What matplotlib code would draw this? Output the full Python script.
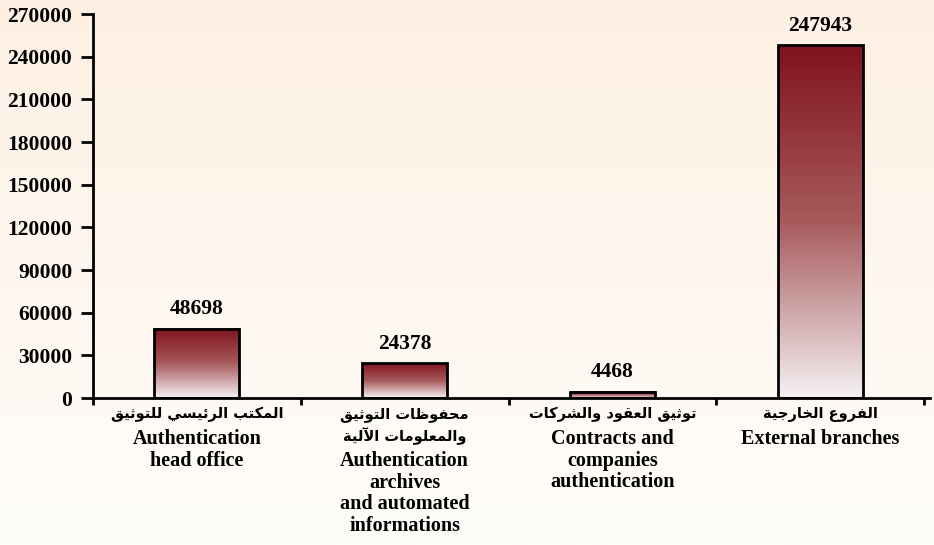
import numpy as np
import matplotlib.pyplot as plt
from matplotlib.colors import LinearSegmentedColormap

# values per department
values = [48698, 24378, 4468, 247943]
labels_ar = [['المكتب الرئيسي للتوثيق'],
             ['محفوظات التوثيق', 'والمعلومات الآلية'],
             ['توثيق العقود والشركات'],
             ['الفروع الخارجية']]
labels_en = [['Authentication', 'head office'],
             ['Authentication', 'archives', 'and automated', 'informations'],
             ['Contracts and', 'companies', 'authentication'],
             ['External branches']]
yticks = np.arange(0, 270001, 30000)

# minimal arabic joining (presentation forms B), matplotlib has no shaping
four = {'ب': 0xFE8F, 'ت': 0xFE95, 'ث': 0xFE99, 'ج': 0xFE9D, 'ح': 0xFEA1,
        'خ': 0xFEA5, 'س': 0xFEB1, 'ش': 0xFEB5, 'ص': 0xFEB9, 'ض': 0xFEBD,
        'ط': 0xFEC1, 'ظ': 0xFEC5, 'ع': 0xFEC9, 'غ': 0xFECD, 'ف': 0xFED1,
        'ق': 0xFED5, 'ك': 0xFED9, 'ل': 0xFEDD, 'م': 0xFEE1, 'ن': 0xFEE5,
        'ه': 0xFEE9, 'ي': 0xFEF1, 'ئ': 0xFE89}
two = {'آ': 0xFE81, 'أ': 0xFE83, 'ؤ': 0xFE85, 'إ': 0xFE87, 'ا': 0xFE8D,
       'ة': 0xFE93, 'د': 0xFEA9, 'ذ': 0xFEAB, 'ر': 0xFEAD, 'ز': 0xFEAF,
       'و': 0xFEED, 'ى': 0xFEEF}
lam_alef = {'آ': 0xFEF5, 'أ': 0xFEF7, 'إ': 0xFEF9, 'ا': 0xFEFB}


def shape(text):
    toks = []
    i = 0
    while i < len(text):
        if text[i] == 'ل' and i + 1 < len(text) and text[i + 1] in lam_alef:
            toks.append(('LA', text[i + 1]))
            i += 2
        else:
            toks.append(text[i])
            i += 1

    def joins(t):
        return isinstance(t, tuple) or t in four or t in two

    out = []
    for k, t in enumerate(toks):
        prev = toks[k - 1] if k > 0 else None
        nxt = toks[k + 1] if k + 1 < len(toks) else None
        p = prev is not None and not isinstance(prev, tuple) and prev in four
        if isinstance(t, tuple):
            out.append(chr(lam_alef[t[1]] + (1 if p else 0)))
        elif t in two:
            out.append(chr(two[t] + (1 if p else 0)))
        elif t in four:
            n = nxt is not None and joins(nxt)
            off = 3 if (p and n) else 1 if p else 2 if n else 0
            out.append(chr(four[t] + off))
        else:
            out.append(t)
    return ''.join(out[::-1])


serif = 'Liberation Serif'
fig = plt.figure(figsize=(9.34, 5.45), dpi=100)

# soft peach background
bg = fig.add_axes([0, 0, 1, 1], zorder=-10)
bg.imshow(np.linspace(0, 1, 256).reshape(-1, 1), aspect='auto',
          cmap=LinearSegmentedColormap.from_list('bg', ['#FDF0E3', '#FFFDFA']),
          extent=[0, 1, 0, 1])
bg.axis('off')

ax = fig.add_axes([0.0996, 0.2697, 0.8964, 0.7046])
ax.set_facecolor('none')

cmap = LinearSegmentedColormap.from_list('bar', ['#F6F1F3', '#A75A5C', '#80121F'])
grad = np.linspace(0, 1, 256).reshape(-1, 1)
w = 0.41
x = np.arange(len(values))
for xi, v in zip(x, values):
    ax.imshow(grad, extent=[xi - w / 2, xi + w / 2, 0, v], origin='lower',
              aspect='auto', cmap=cmap, zorder=2)
ax.bar(x, values, width=w, facecolor='none', edgecolor='black', linewidth=2, zorder=3)

for xi, v in zip(x, values):
    ax.annotate(str(v), (xi, v), xytext=(0, 7), textcoords='offset points',
                ha='center', va='bottom', fontsize=15.5, fontweight='bold', family=serif)

ax.set_xlim(-0.5, 3.53)
ax.set_ylim(0, 270000)
ax.set_yticks(yticks)
ax.set_yticklabels([str(t) for t in yticks], fontsize=15.5, fontweight='bold', family=serif)
ax.set_xticks([-0.5, 0.5, 1.5, 2.5, 3.5])
ax.set_xticklabels([])
ax.tick_params(axis='y', length=9, width=2, pad=6)
ax.tick_params(axis='x', length=5, width=2)
for s in ['top', 'right']:
    ax.spines[s].set_visible(False)
for s in ['left', 'bottom']:
    ax.spines[s].set_linewidth(2)

# category labels: arabic lines then english lines
for xi, ar, en in zip(x, labels_ar, labels_en):
    pos = 16
    for line in ar:
        ax.annotate(shape(line), (xi, 0), xytext=(0, -pos * 0.72), textcoords='offset points',
                    ha='center', va='center', fontsize=10.5, fontweight='bold', family='DejaVu Sans')
        pos += 22
    pos += 3
    for line in en:
        ax.annotate(line, (xi, 0), xytext=(0, -pos * 0.72), textcoords='offset points',
                    ha='center', va='center', fontsize=14.5, fontweight='bold', family=serif,
                    annotation_clip=False)
        pos += 21.5

fig.savefig('out.png', dpi=100)
